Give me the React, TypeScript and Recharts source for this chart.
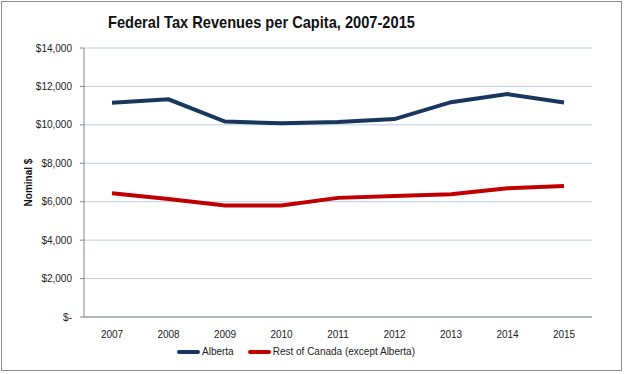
import React from "react";
import { LineChart, Line, XAxis, YAxis, CartesianGrid, Legend, Label } from "recharts";

const years = ["2007", "2008", "2009", "2010", "2011", "2012", "2013", "2014", "2015"];
const alberta = [11150, 11330, 10170, 10080, 10150, 10300, 11180, 11600, 11160];
const restOfCanada = [6440, 6140, 5800, 5800, 6200, 6300, 6390, 6700, 6820];
const yTicks = [0, 2000, 4000, 6000, 8000, 10000, 12000, 14000];

const data = years.map((year, i) => ({
  year,
  Alberta: alberta[i],
  RestOfCanada: restOfCanada[i],
}));

const FONT = "'Liberation Sans', Arial, sans-serif";

const formatDollar = (v: number) => (v === 0 ? "$-" : "$" + v.toLocaleString("en-US"));

// legend like excel: fat line swatch + label
const renderLegend = (props: any) => {
  const { payload } = props;
  return (
    <div style={{ display: "flex", justifyContent: "center", gap: 14, fontFamily: FONT, fontSize: 10, color: "#222", paddingTop: 4 }}>
      {payload.map((entry: any, i: number) => (
        <div key={i} style={{ display: "flex", alignItems: "center" }}>
          <span style={{ display: "inline-block", width: 23, height: 4, borderRadius: 2, background: entry.color, marginRight: 2 }} />
          <span>{entry.value}</span>
        </div>
      ))}
    </div>
  );
};

export default function App() {
  return (
    <div style={{ position: "fixed", left: 0, top: 0, width: 624, height: 374, background: "#fff" }}>
      <div style={{ position: "absolute", left: 1, top: 1, width: 619, height: 368, border: "1px solid #8c8c8c" }} />
      <div style={{ position: "absolute", left: 0, top: 13, width: 522, textAlign: "center" }}>
        <span style={{ display: "inline-block", transform: "scaleX(0.86)", fontFamily: FONT, fontWeight: "bold", fontSize: 17, color: "#111" }}>
          Federal Tax Revenues per Capita, 2007-2015
        </span>
      </div>
      <div style={{ position: "absolute", left: 0, top: 0 }}>
        <LineChart width={624} height={374} data={data} margin={{ top: 48, right: 32, left: 0, bottom: 8 }}>
          <CartesianGrid vertical={false} stroke="#b9cde5" strokeWidth={1} />
          <XAxis
            dataKey="year"
            stroke="#868686"
            tickLine={false}
            height={25}
            padding={{ left: 28, right: 28 }}
            tick={{ fontFamily: FONT, fontSize: 10, fill: "#222" }}
            tickMargin={8}
          />
          <YAxis
            width={84}
            domain={[0, 14000]}
            ticks={yTicks}
            tickFormatter={formatDollar}
            stroke="#868686"
            tickSize={4}
            tick={{ fontFamily: FONT, fontSize: 10, fill: "#222" }}
            tickMargin={8}
          >
            <Label
              value="Nominal $"
              angle={-90}
              position="insideLeft"
              offset={28}
              style={{ fontFamily: FONT, fontSize: 10, fontWeight: "bold", fill: "#111", textAnchor: "middle" }}
            />
          </YAxis>
          <Legend verticalAlign="bottom" height={24} content={renderLegend} />
          <Line
            type="linear"
            dataKey="Alberta"
            name="Alberta"
            stroke="#17375e"
            strokeWidth={4}
            dot={false}
            isAnimationActive={false}
          />
          <Line
            type="linear"
            dataKey="RestOfCanada"
            name="Rest of Canada (except Alberta)"
            stroke="#c00000"
            strokeWidth={4}
            dot={false}
            isAnimationActive={false}
          />
        </LineChart>
      </div>
    </div>
  );
}
